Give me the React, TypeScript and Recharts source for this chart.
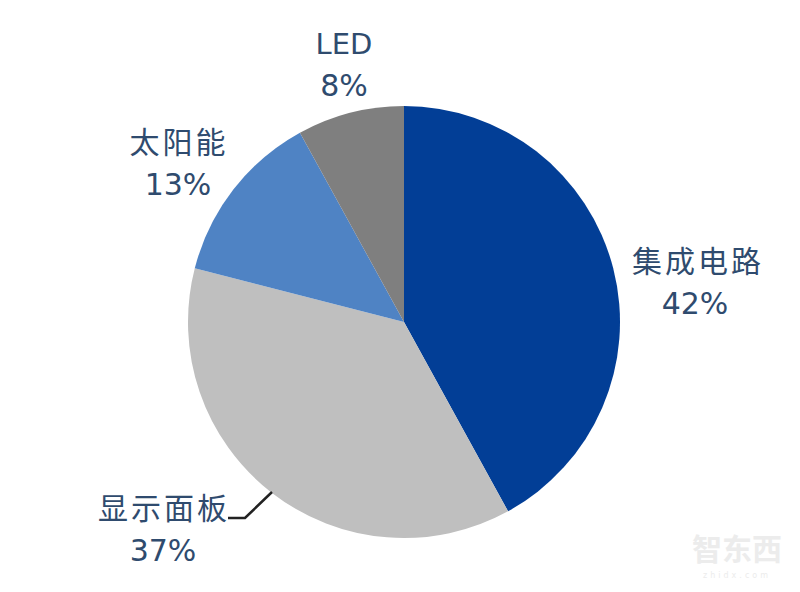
import { PieChart, Pie, Cell } from "recharts";

const categories = ["集成电路", "显示面板", "太阳能", "LED"];
const shares = [42, 37, 13, 8];
const colors = ["#023e96", "#bfbfbf", "#4f83c4", "#7f7f7f"];

const data = categories.map((name, i) => ({ name, value: shares[i] }));

// text centres, by slice
const labelX = [698, 164, 179, 344];
const labelY = [259, 506, 140, 44];

const textColor = "#2f4b6e";

function renderLabel(props: any) {
  const i = props.index;
  const x = labelX[i];
  const y = labelY[i];
  const isLatin = /^[A-Za-z]+$/.test(props.name);
  return (
    <g key={props.name}>
      <text
        x={x}
        y={y}
        textAnchor="middle"
        dominantBaseline="central"
        fill={textColor}
        fontSize={isLatin ? 29 : 30}
        letterSpacing={isLatin ? 0 : 3}
        fontFamily={isLatin ? "'DejaVu Sans'" : "'Noto Sans CJK SC'"}
      >
        {props.name}
      </text>
      <text
        x={isLatin ? x : i === 0 ? x - 3 : x - 1}
        y={isLatin ? y + 41 : y + 44}
        textAnchor="middle"
        dominantBaseline="central"
        fill={textColor}
        fontSize={30}
        fontFamily="'DejaVu Sans'"
      >
        {shares[i]}%
      </text>
    </g>
  );
}

function renderLine(props: any) {
  // only the 显示面板 label has a leader
  if (props.index !== 1) return <g key={props.index} />;
  return <polyline key={props.index} points="272,492 245,518 228,518" fill="none" stroke="#222222" strokeWidth={2.5} />;
}

export default function App() {
  return (
    <div style={{ position: "absolute", left: 0, top: 0, width: 800, height: 592, background: "#fff" }}>
      <PieChart width={800} height={592} margin={{ top: 0, right: 0, bottom: 0, left: 0 }}>
        <Pie
          data={data}
          dataKey="value"
          nameKey="name"
          cx={404}
          cy={322}
          innerRadius={0}
          outerRadius={216}
          startAngle={90}
          endAngle={-270}
          stroke="none"
          label={renderLabel}
          labelLine={renderLine}
          isAnimationActive={false}
        >
          {data.map((d, i) => (
            <Cell key={d.name} fill={colors[i]} />
          ))}
        </Pie>
        <text x={737} y={560} textAnchor="middle" fill="#ececec" fontSize={30} fontWeight={700} fontFamily="'Noto Sans CJK SC'">
          智东西
        </text>
        <text x={737} y={578} textAnchor="middle" fill="#ececec" fontSize={8} letterSpacing={3} fontFamily="'DejaVu Sans'">
          zhidx.com
        </text>
      </PieChart>
    </div>
  );
}
